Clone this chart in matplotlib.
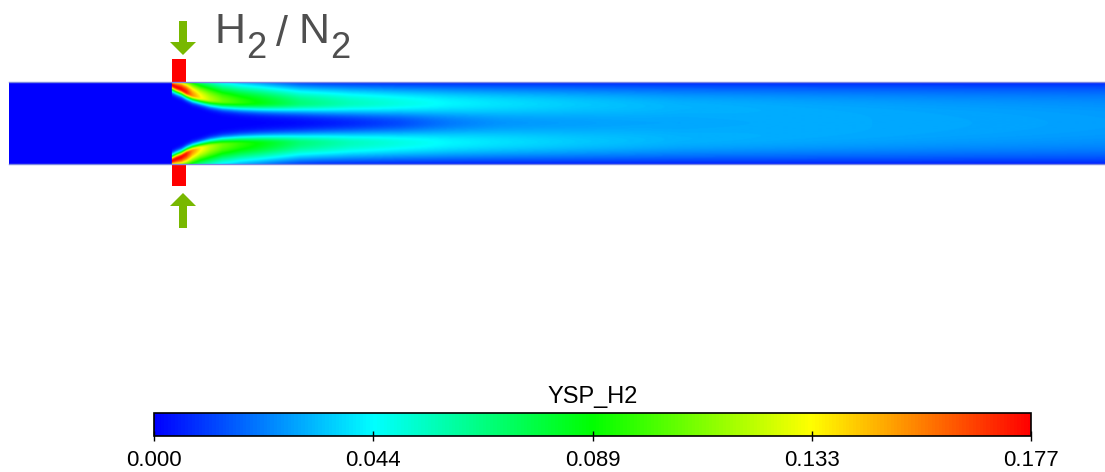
import numpy as np
import matplotlib
matplotlib.use("Agg")
import matplotlib.pyplot as plt
from matplotlib.colors import LinearSegmentedColormap, Normalize
from matplotlib.patches import Rectangle, FancyArrow
import matplotlib.cm as cm

plt.rcParams['font.family'] = ['Liberation Sans', 'DejaVu Sans']

# colour scale
var_name = "YSP_H2"
vmin, vmax = 0.0, 0.177
tick_labels = ["0.000", "0.044", "0.089", "0.133", "0.177"]

# jet stations (x in px along the channel)
x_st = [172, 176, 181, 186, 192, 200, 210, 222, 240, 260, 300, 350, 400, 450, 500,
        580, 680, 800, 950, 1105]
depth = [3, 5, 7, 10, 13, 15.5, 17.5, 19, 20, 20.5, 21, 21, 21, 21, 21, 21, 21, 21, 21, 21]
peak = [0.177, 0.177, 0.177, 0.172, 0.152, 0.135, 0.12, 0.107, 0.096, 0.087, 0.068,
        0.056, 0.049, 0.043, 0.039, 0.034, 0.029, 0.026, 0.023, 0.021]
sig_in = [4, 4, 4, 4, 4, 4, 4.5, 5, 5.5, 6, 7, 8.5, 10, 12, 13.5, 15, 17, 19, 21, 22]
sig_out = [4, 6, 8, 10, 12, 13, 14, 14, 14, 14, 13, 13, 13, 13.5, 14, 15, 16, 17, 18, 19]

# geometry (px)
x0, x1 = 9, 1105
y_top, y_bot = 82, 164
inj_x, inj_w = 172, 14

cmap = LinearSegmentedColormap.from_list(
    "rainbow5", [(0, 0, 1), (0, 1, 1), (0, 1, 0), (1, 1, 0), (1, 0, 0)])

# build field
H = y_bot - y_top
xs = np.arange(x0, x1 + 1, 1.0)
ds = np.arange(0, H + 0.5, 0.5)
X, D = np.meshgrid(xs, ds)
dc = np.interp(X, x_st, depth)
pk = np.interp(X, x_st, peak)
si = np.interp(X, x_st, sig_in)
so = np.interp(X, x_st, sig_out)


def jet(d):
    s = np.where(d > dc, si, so)
    return np.exp(-(d - dc) ** 2 / (2 * s ** 2))


field = pk * (jet(D) + jet(H - D))
k = np.clip((X - 230) / 90, 0, 1) * 0.5
field *= (1 - k * np.exp(-D / 4) - k * np.exp(-(H - D) / 4))
field[X < inj_x] = 0
field = np.clip(field, vmin, vmax)

fig = plt.figure(figsize=(11.05, 4.72), dpi=100)
ax = fig.add_axes([0, 0, 1, 1])
ax.set_xlim(0, 1105)
ax.set_ylim(472, 0)
ax.axis("off")

ax.imshow(field, cmap=cmap, vmin=vmin, vmax=vmax, extent=[x0, x1, y_bot, y_top],
          aspect="auto", interpolation="bilinear", origin="upper")
ax.plot([x0, x1], [y_top, y_top], color="#7b88e0", lw=1)
ax.plot([x0, x1], [y_bot, y_bot], color="#7b88e0", lw=1)

# injectors
ax.add_patch(Rectangle((inj_x, 59), inj_w, y_top - 59, color="red", lw=0))
ax.add_patch(Rectangle((inj_x, y_bot), inj_w, 186 - y_bot, color="red", lw=0))

# inflow arrows
green = "#78b800"
ax.add_patch(FancyArrow(183, 21, 0, 34, width=8, head_width=26, head_length=13,
                        length_includes_head=True, color=green, lw=0))
ax.add_patch(FancyArrow(183, 228, 0, -35, width=8, head_width=26, head_length=13,
                        length_includes_head=True, color=green, lw=0))

# H2 / N2 label
grey = "#4f4f4f"
ax.text(215, 43, "H", fontsize=31, color=grey, va="baseline")
ax.text(246, 58, "2", fontsize=26, color=grey, va="baseline")
ax.text(276, 46, "/", fontsize=31, color=grey, va="baseline")
ax.text(298, 43, "N", fontsize=31, color=grey, va="baseline")
ax.text(330, 58, "2", fontsize=26, color=grey, va="baseline")

# colour bar
cax = fig.add_axes([154 / 1105, 1 - 436 / 472, 877 / 1105, 23 / 472])
sm = cm.ScalarMappable(norm=Normalize(vmin, vmax), cmap=cmap)
cb = fig.colorbar(sm, cax=cax, orientation="horizontal")
cb.set_ticks(np.linspace(vmin, vmax, len(tick_labels)))
cb.set_ticklabels(tick_labels)
cb.outline.set_linewidth(1.2)
cax.tick_params(direction="inout", length=6.5, width=1, pad=7, labelsize=16)
cax.set_title(var_name, fontsize=17, pad=7)

fig.savefig("out.png", dpi=100)
